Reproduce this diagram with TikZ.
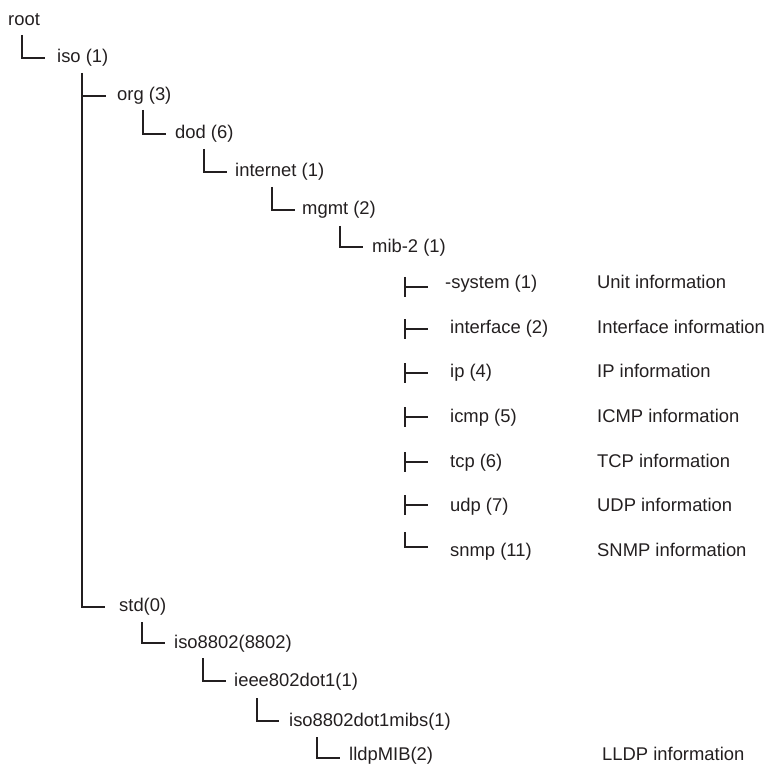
\documentclass[tikz,border=0pt]{standalone}
\usepackage{fontspec}
\setmainfont{Liberation Sans}
\definecolor{ink}{RGB}{35,31,32}
\begin{document}
\begin{tikzpicture}[x=1pt,y=-1pt,
  lbl/.style={anchor=base west,inner sep=0pt,text=ink,font=\fontsize{18.4}{22}\selectfont},
  conn/.style={draw=ink,line width=2.7pt,line join=miter}]
\useasboundingbox (0,0) rectangle (768,767);
% tree nodes
\node[lbl] (root) at (8,26) {root};
\node[lbl] (iso) at (57,63) {iso (1)};
\node[lbl] (org) at (117,101) {org (3)};
\node[lbl] (dod) at (175,139) {dod (6)};
\node[lbl] (internet) at (235,177) {internet (1)};
\node[lbl] (mgmt) at (302,215) {mgmt (2)};
\node[lbl] (mib) at (372,253) {mib-2 (1)};
\node[lbl] (system) at (445,288) {-system (1)};
\node[lbl] (interface) at (450,333) {interface (2)};
\node[lbl] (ip) at (450,377) {ip (4)};
\node[lbl] (icmp) at (450,422) {icmp (5)};
\node[lbl] (tcp) at (450,467) {tcp (6)};
\node[lbl] (udp) at (450,511) {udp (7)};
\node[lbl] (snmp) at (450,556) {snmp (11)};
\node[lbl] (systemd) at (597,288) {Unit information};
\node[lbl] (interfaced) at (597,333) {Interface information};
\node[lbl] (ipd) at (597,377) {IP information};
\node[lbl] (icmpd) at (597,422) {ICMP information};
\node[lbl] (tcpd) at (597,467) {TCP information};
\node[lbl] (udpd) at (597,511) {UDP information};
\node[lbl] (snmpd) at (597,556) {SNMP information};
\node[lbl] (std) at (119,611) {std(0)};
\node[lbl] (iso8802) at (174,648) {iso8802(8802)};
\node[lbl] (ieee) at (234,686) {ieee802dot1(1)};
\node[lbl] (mibs) at (289,726) {iso8802dot1mibs(1)};
\node[lbl] (lldp) at (349,760) {lldpMIB(2)};
\node[lbl] (lldpd) at (602,760) {LLDP information};
% connectors
\draw[conn] (22,35) |- (45,58);
\draw[conn] (82,73) |- (105,607);
\draw[conn] (82,96) -- (106,96);
\draw[conn] (143,110) |- (166,134);
\draw[conn] (204,149) |- (227,172);
\draw[conn] (272,187) |- (295,210);
\draw[conn] (340,226) |- (363,247);
% mib-2 children
\foreach \y in {287,329,373,417,462,505}{
  \draw[conn] (405,\y-10) -- (405,\y+10);
  \draw[conn] (405,\y) -- (428,\y);
}
\draw[conn] (405,532) |- (428,547);
% std subtree
\draw[conn] (142,622) |- (165,643);
\draw[conn] (203,658) |- (226,681);
\draw[conn] (257,698) |- (279,721);
\draw[conn] (317,737) |- (340,758);
\end{tikzpicture}
\end{document}
